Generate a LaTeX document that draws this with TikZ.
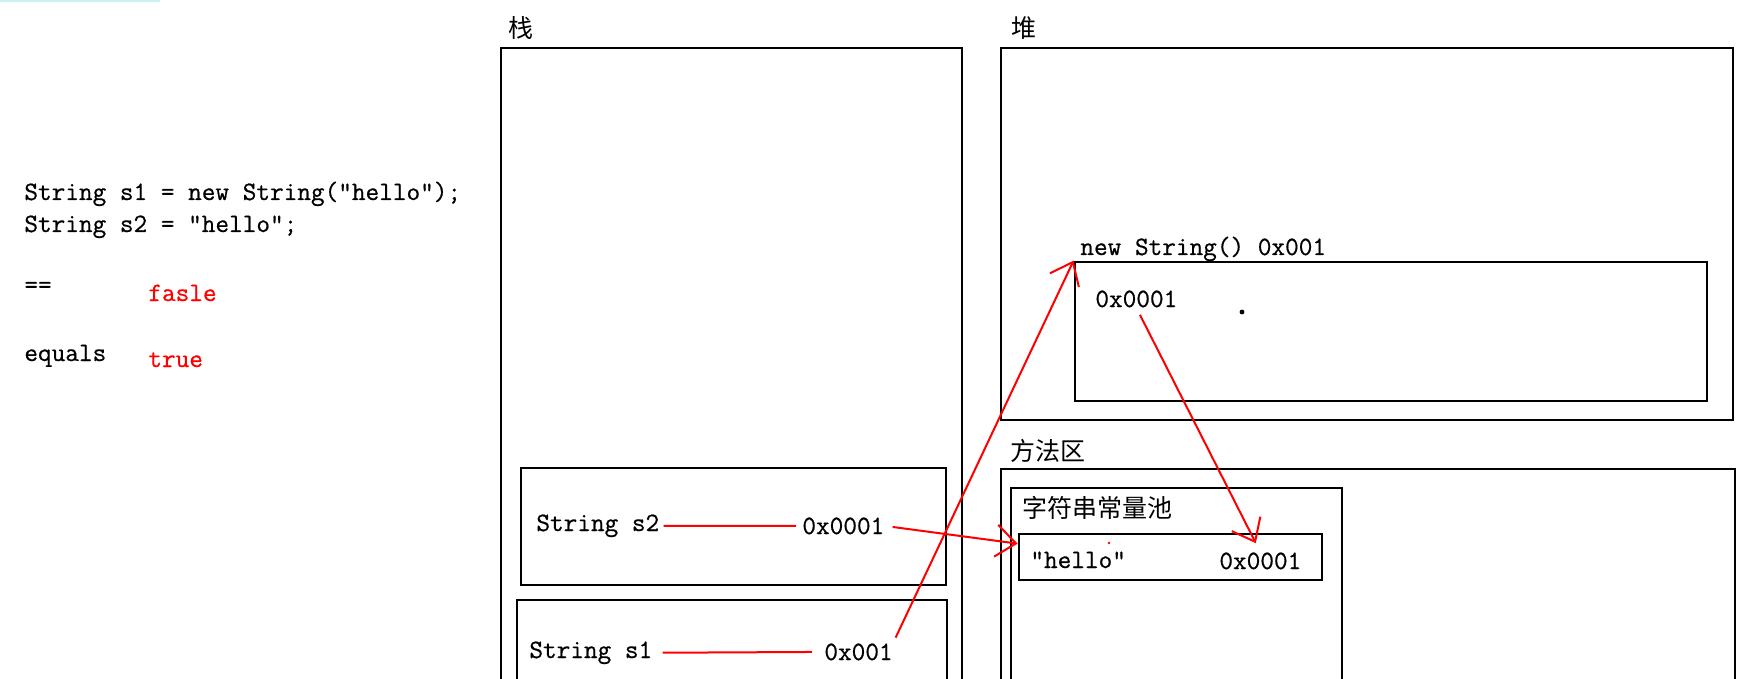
\documentclass[tikz,border=0pt]{standalone}
\usepackage{fontspec}
\setmonofont{Latin Modern Mono}[FakeBold=0.6]
\newfontfamily\cjk{Noto Sans CJK SC}
\usepackage{xcolor}
\usepackage{tikz}
\usetikzlibrary{arrows.meta,fit}
\definecolor{tabline}{RGB}{200,240,245}

\begin{document}
\begin{tikzpicture}[x=0.5pt,y=-0.5pt,
  code/.style={anchor=base west,inner sep=0pt,font=\ttfamily\fontsize{13.25}{15}\selectfont},
  zone/.style={anchor=base west,inner sep=0pt,font=\cjk\fontsize{12.5}{14}\selectfont},
  box/.style={draw,line width=1.4pt,inner sep=0pt},
  link/.style={red,line width=1pt},
  ref/.style={link,-{Straight Barb[length=10pt,width=16pt]}}]
\useasboundingbox (0,0) rectangle (1746,679);
\clip (0,0) rectangle (1746,679);
\draw[tabline,line width=1pt] (0,1) -- (160,1);

% code on the left
\node[code] (line1) at (24,200) {String s1 = new String("hello");};
\node[code] (line2) at (24,232) {String s2 = "hello";};
\node[code] (eqop) at (24,293) {==};
\node[code,red] (eqres) at (148,301) {fasle};
\node[code] (eqmeth) at (24,361) {equals};
\node[code,red] (eqmres) at (148,367) {true};

% stack
\node[zone] (stacktitle) at (508,38) {栈};
\node[box,fit={(501,48) (962,720)}] (stack) {};
\node[box,fit={(521,468) (946,585)}] (s2frame) {};
\node[box,fit={(517,600) (947,720)}] (s1frame) {};
\node[code] (s2name) at (536,531) {String s2};
\node[code] (s2addr) at (802,534) {0x0001};
\node[code] (s1name) at (529,658) {String s1};
\node[code] (s1addr) at (824,660) {0x001};

% heap
\node[zone] (heaptitle) at (1011,38) {堆};
\node[box,fit={(1001,48) (1733,420)}] (heap) {};
\node[code] (newobj) at (1080,255) {new String() 0x001};
\node[box,fit={(1075,262) (1707,401)}] (heapobj) {};
\node[code] (heapaddr) at (1095,307) {0x0001};
\fill (1242,312) circle (1.2pt);

% method area
\node[zone] (methtitle) at (1010,460) {方法区};
\node[box,fit={(1001,469) (1735,720)}] (method) {};
\node[box,fit={(1011,488) (1342,720)}] (pool) {};
\node[zone] (pooltitle) at (1022,517) {字符串常量池};
\node[box,fit={(1019,534) (1322,580)}] (hellobox) {};
\node[code] (hellotext) at (1030,568) {"hello"};
\node[code] (pooladdr) at (1219,569) {0x0001};
\fill[red] (1109,543) circle (0.7pt);

% references
\draw[link,shorten <=2pt,shorten >=3pt] (s2name.east) -- (s2addr.west);
\draw[ref,shorten <=4pt] (s2addr.east) -- (hellobox.175);
\draw[link,shorten <=5pt,shorten >=6pt] (s1name.east) -- (s1addr.west);
\draw[ref,shorten <=3pt] (s1addr.north east) -- (heapobj.north west);
\draw[ref,shorten <=4pt,shorten >=5pt] (heapaddr.south) -- (pooladdr.north);
\end{tikzpicture}
\end{document}
